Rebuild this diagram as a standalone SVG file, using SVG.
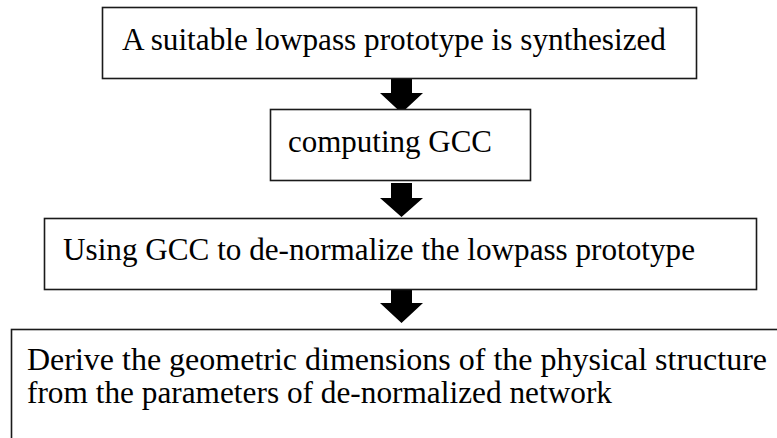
<svg xmlns="http://www.w3.org/2000/svg" width="777" height="438" viewBox="0 0 777 438">
  <style>
    .box { fill: #ffffff; stroke: #1a1a1a; stroke-width: 1.6; }
    .lbl { font-family: "Liberation Serif", "Times New Roman", serif; font-size: 32.5px; fill: #000000; }
    .arrow { fill: #000000; }
  </style>
  <rect width="777" height="438" fill="#ffffff"/>

  <g id="connectors">
    <!-- block arrows between steps -->
    <polygon class="arrow" points="391,79 412,79 412,93 423,93 401.5,113 380,93 391,93"/>
    <polygon class="arrow" points="391,183 412,183 412,198 423,198 401.5,217 380,198 391,198"/>
    <polygon class="arrow" points="391,289 412,289 412,303 423,303 401.5,323 380,303 391,303"/>
  </g>

  <g id="step1">
    <rect class="box" x="102.5" y="7.5" width="594" height="71"/>
    <text class="lbl" x="122" y="50" textLength="544" lengthAdjust="spacingAndGlyphs">A suitable lowpass prototype is synthesized</text>
  </g>

  <g id="step2">
    <rect class="box" x="270.5" y="109.5" width="260" height="71"/>
    <text class="lbl" x="288" y="152" textLength="204" lengthAdjust="spacingAndGlyphs">computing GCC</text>
  </g>

  <g id="step3">
    <rect class="box" x="44.5" y="218.5" width="712" height="71"/>
    <text class="lbl" x="63" y="260" textLength="632" lengthAdjust="spacingAndGlyphs">Using GCC to de-normalize the lowpass prototype</text>
  </g>

  <g id="step4">
    <rect class="box" x="11.5" y="329.5" width="780" height="130"/>
    <text class="lbl" x="27" y="370" textLength="740" lengthAdjust="spacingAndGlyphs">Derive the geometric dimensions of the physical structure</text>
    <text class="lbl" x="27" y="403" textLength="585" lengthAdjust="spacingAndGlyphs">from the parameters of de-normalized network</text>
  </g>
</svg>
